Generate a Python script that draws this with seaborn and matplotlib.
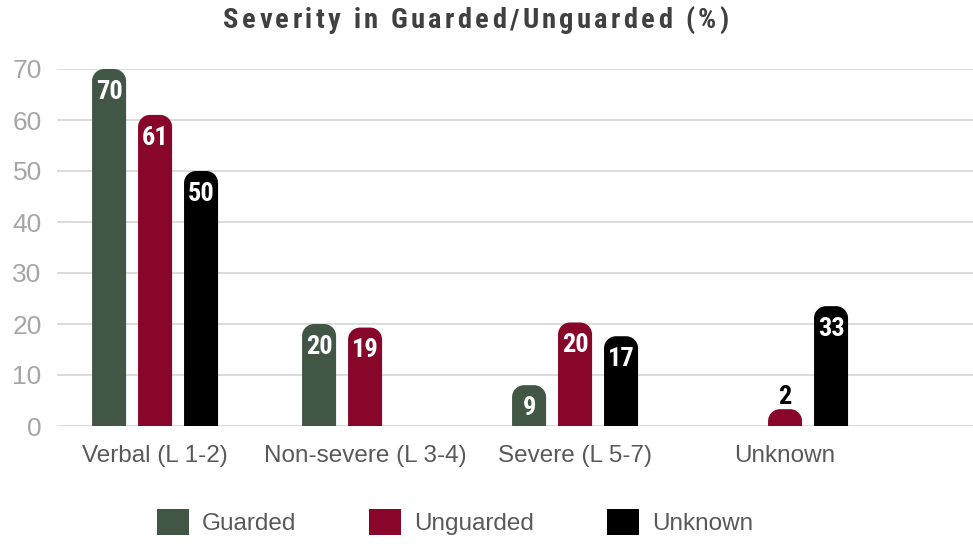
import matplotlib
matplotlib.use("Agg")
import matplotlib.pyplot as plt
from matplotlib.path import Path
from matplotlib.patches import PathPatch, Patch
from matplotlib import font_manager as fm
import seaborn as sns
import pandas as pd

# ---- data ----
categories = ["Verbal (L 1-2)", "Non-severe (L 3-4)", "Severe (L 5-7)", "Unknown"]
series = ["Guarded", "Unguarded", "Unknown"]
guarded = [70, 20, 8, 0]
unguarded = [61, 19.3, 20.3, 3.3]
unknown = [50, 0, 17.6, 23.5]
guarded_labels = ["70", "20", "9", ""]
unguarded_labels = ["61", "19", "20", "2"]
unknown_labels = ["50", "", "17", "33"]
yticks = [0, 10, 20, 30, 40, 50, 60, 70]
title = "Severity in Guarded/Unguarded (%)"

colors = {"Guarded": "#425646", "Unguarded": "#88062a", "Unknown": "#000000"}

df = pd.DataFrame({
    "category": categories * 3,
    "series": [s for s in series for _ in categories],
    "value": guarded + unguarded + unknown,
})
value_labels = [guarded_labels, unguarded_labels, unknown_labels]

sns.set_theme(style="white")
plt.rcParams["font.family"] = ["Liberation Sans", "DejaVu Sans"]

# look for a condensed bold face
cond_file = None
cands = []
for f in fm.fontManager.ttflist:
    nm = f.name.lower()
    fn = f.fname.lower()
    w = f.weight if isinstance(f.weight, int) else 700 if "bold" in str(f.weight) else 400
    if ("narrow" in nm or "condensed" in nm or "narrow" in fn or "condensed" in fn
            or str(f.stretch) in ("condensed", "semi-condensed")):
        if w >= 600 or "bold" in fn:
            pri = 0 if "liberation" in nm else 1 if "roboto" in nm else 2
            if "oblique" in fn or "italic" in fn:
                continue
            cands.append((pri, f.fname))
if cands:
    cands.sort()
    cond_file = cands[0][1]

def cond_props(size):
    if cond_file:
        return fm.FontProperties(fname=cond_file, size=size)
    return fm.FontProperties(family=["Liberation Sans", "DejaVu Sans"], weight="bold",
                             size=size)

W, H = 973, 544
fig = plt.figure(figsize=(W / 100, H / 100), dpi=100)
ax = fig.add_axes([57 / W, 1 - 426 / H, 1 - 57 / W, (426 - 69) / H])

sns.barplot(data=df, x="category", y="value", hue="series", order=categories,
            hue_order=series, palette=colors, width=0.657, gap=0.26,
            saturation=1, legend=False, ax=ax, edgecolor="none")

ax.set_ylim(0, 70)
ax.set_xlim(-0.467, 3.895)
ax.set_yticks(yticks)
ax.set_xlabel("")
ax.set_ylabel("")
for s in ax.spines.values():
    s.set_visible(False)
ax.yaxis.grid(True, color="#d9d9d9", lw=1.3)
ax.set_axisbelow(True)
ax.tick_params(axis="y", length=0, pad=11, labelsize=19, labelcolor="#a6a6a6")
ax.tick_params(axis="x", length=0, pad=13.5, labelsize=17.5, labelcolor="#595959")

# rounded tops
fig.canvas.draw()
p0 = ax.transData.transform((0, 0))
p1 = ax.transData.transform((1, 1))
pxx = p1[0] - p0[0]
pxy = p1[1] - p0[1]
r_px = 12.0
k = 0.5523

def rounded_path(x0, w, h):
    rx = min(r_px / pxx, w / 2)
    ry = min(r_px / pxy, h)
    verts = [(x0, 0), (x0, h - ry),
             (x0, h - ry + k * ry), (x0 + rx - k * rx, h), (x0 + rx, h),
             (x0 + w - rx, h),
             (x0 + w - rx + k * rx, h), (x0 + w, h - ry + k * ry), (x0 + w, h - ry),
             (x0 + w, 0), (x0, 0)]
    codes = [Path.MOVETO, Path.LINETO, Path.CURVE4, Path.CURVE4, Path.CURVE4,
             Path.LINETO, Path.CURVE4, Path.CURVE4, Path.CURVE4,
             Path.LINETO, Path.CLOSEPOLY]
    return Path(verts, codes)

num_fp = cond_props(19 if cond_file else 17)
for container, labs in zip(ax.containers, value_labels):
    for bar, lab in zip(container.patches, labs):
        h = bar.get_height()
        x0 = bar.get_x()
        w = bar.get_width()
        fc = bar.get_facecolor()
        bar.set_visible(False)
        if h <= 0:
            continue
        ax.add_patch(PathPatch(rounded_path(x0, w, h), facecolor=fc,
                               edgecolor="none", zorder=3))
        if lab:
            if h < 5:
                ax.annotate(lab, (x0 + w / 2, h), xytext=(0, 8.6),
                            textcoords="offset points", ha="center", va="center",
                            fontproperties=num_fp, color="black", zorder=4)
            else:
                ax.annotate(lab, (x0 + w / 2, h), xytext=(0, -16.5),
                            textcoords="offset points", ha="center", va="center",
                            fontproperties=num_fp, color="white", zorder=4)

# title with letter spacing
renderer = fig.canvas.get_renderer()
title_fp = cond_props(20.5 if cond_file else 17.5)

def text_w(s):
    t = fig.text(0, 0, s, fontproperties=title_fp)
    w = t.get_window_extent(renderer).width
    t.remove()
    return w

target_w = 505.0
ref_w = text_w("x")
offsets = [0.0] + [text_w(title[:i] + "x") - ref_w for i in range(1, len(title))]
plain_w = text_w(title)
spacing = max(0.0, (target_w - plain_w) / (len(title) - 1))
total = plain_w + spacing * (len(title) - 1)
xstart = 476 - total / 2
ybase = H - 28
for i, ch in enumerate(title):
    fig.text((xstart + offsets[i] + spacing * i) / W, ybase / H, ch,
             ha="left", va="baseline", fontproperties=title_fp, color="#404040")

handles = [Patch(facecolor=colors[s], edgecolor="none") for s in series]
leg = fig.legend(handles, series, loc="center", bbox_to_anchor=(455 / W, 1 - 522 / H),
                 ncol=3, frameon=False, fontsize=17.5, handlelength=1.3,
                 handleheight=1.3, handletextpad=0.55, columnspacing=3.0)
for t in leg.get_texts():
    t.set_color("#595959")

fig.savefig("out.png", dpi=100)
